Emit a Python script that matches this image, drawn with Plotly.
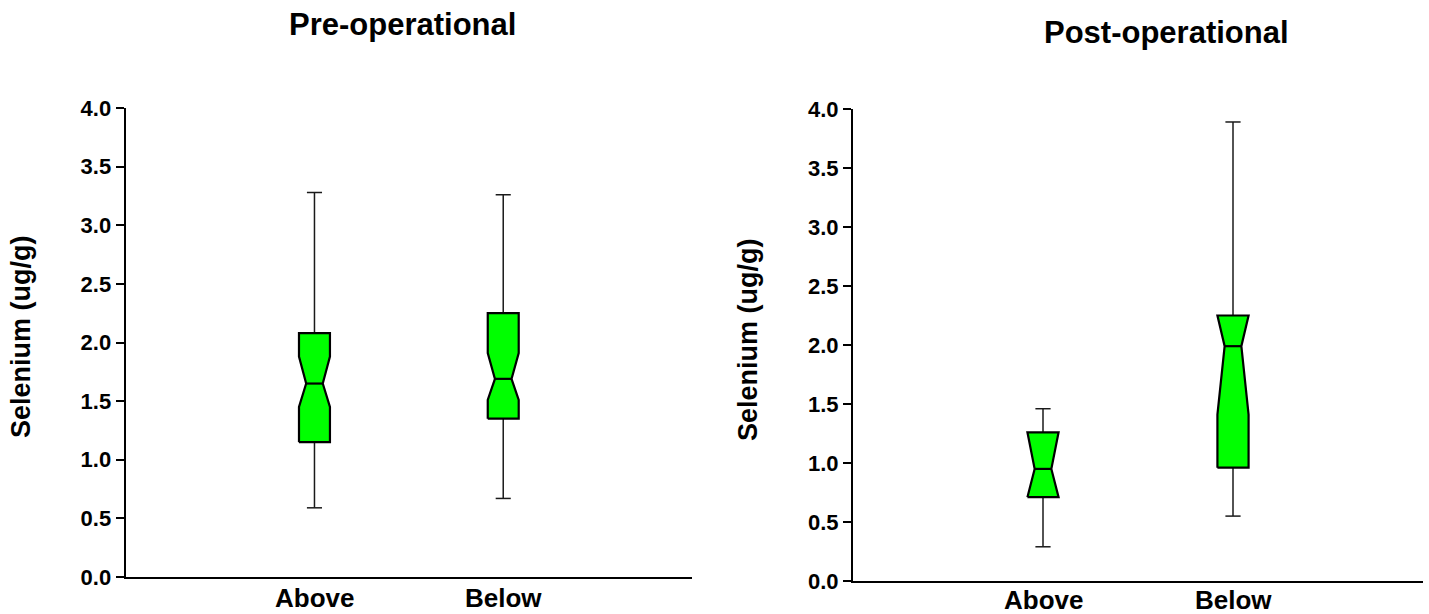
import plotly.graph_objects as go

# Selenium (ug/g) summary statistics per group, pre- and post-operational
groups = ["Above", "Below"]

pre_whisker_hi = [3.28, 3.26]
pre_q3 = [2.08, 2.25]
pre_notch_hi = [1.88, 1.91]
pre_median = [1.65, 1.69]
pre_notch_lo = [1.45, 1.51]
pre_q1 = [1.15, 1.35]
pre_whisker_lo = [0.59, 0.67]

post_whisker_hi = [1.46, 3.89]
post_q3 = [1.26, 2.25]
post_notch_hi = [1.26, 2.25]
post_median = [0.95, 1.99]
post_notch_lo = [0.71, 1.41]
post_q1 = [0.71, 0.96]
post_whisker_lo = [0.29, 0.55]

y_ticks = [0.0, 0.5, 1.0, 1.5, 2.0, 2.5, 3.0, 3.5, 4.0]

# styling
W, H = 1429, 614
FONT = "Liberation Sans, Arial, Helvetica, sans-serif"
BOX_HALF = 0.082
NOTCH_HALF = 0.044
CAP_HALF = 0.04
FILL = "#00FF00"

fig = go.Figure()


def add_panel(xa, ya, whi, q3, nhi, med, nlo, q1, wlo):
    for i in range(len(groups)):
        c = i
        # whiskers with caps
        fig.add_trace(go.Scatter(
            x=[c, c, None, c - CAP_HALF, c + CAP_HALF, None,
               c, c, None, c - CAP_HALF, c + CAP_HALF],
            y=[q3[i], whi[i], None, whi[i], whi[i], None,
               q1[i], wlo[i], None, wlo[i], wlo[i]],
            mode="lines", line=dict(color="#1a1a1a", width=1.5),
            xaxis=xa, yaxis=ya, showlegend=False, hoverinfo="skip"))
        # notched box outline
        L, R = c - BOX_HALF, c + BOX_HALF
        Ln, Rn = c - NOTCH_HALF, c + NOTCH_HALF
        fig.add_trace(go.Scatter(
            x=[L, L, Ln, L, L, R, R, Rn, R, R, L],
            y=[q1[i], nlo[i], med[i], nhi[i], q3[i], q3[i], nhi[i],
               med[i], nlo[i], q1[i], q1[i]],
            mode="lines", fill="toself", fillcolor=FILL,
            line=dict(color="black", width=2.2),
            xaxis=xa, yaxis=ya, showlegend=False, hoverinfo="skip"))
        # median line
        fig.add_trace(go.Scatter(
            x=[Ln, Rn], y=[med[i], med[i]], mode="lines",
            line=dict(color="black", width=2.2),
            xaxis=xa, yaxis=ya, showlegend=False, hoverinfo="skip"))


add_panel("x", "y", pre_whisker_hi, pre_q3, pre_notch_hi, pre_median,
          pre_notch_lo, pre_q1, pre_whisker_lo)
add_panel("x2", "y2", post_whisker_hi, post_q3, post_notch_hi, post_median,
          post_notch_lo, post_q1, post_whisker_lo)


def px_x(p):
    return p / W


def px_y(p):
    return 1 - p / H


tick_font = dict(family=FONT, size=22, color="black", weight="bold")
cat_font = dict(family=FONT, size=26, color="black", weight="bold")

xaxis_common = dict(
    range=[-1, 2], tickvals=[0, 1], showticklabels=False, showgrid=False,
    zeroline=False, showline=True, linecolor="black", linewidth=2.2,
    ticks="", fixedrange=True, automargin=False)
yaxis_common = dict(
    range=[0, 4], tickvals=y_ticks, ticktext=[f"{v:.1f}" for v in y_ticks],
    showgrid=False, zeroline=False, showline=True, linecolor="black",
    linewidth=2.2, ticks="outside", ticklen=8, tickwidth=2, tickcolor="black",
    tickfont=tick_font, fixedrange=True, automargin=False)

fig.update_layout(
    width=W, height=H,
    margin=dict(l=0, r=0, t=0, b=0, pad=0, autoexpand=False),
    paper_bgcolor="white", plot_bgcolor="white", showlegend=False,
    xaxis=dict(domain=[px_x(125.7), px_x(692)], anchor="y", **xaxis_common),
    yaxis=dict(domain=[px_y(577), px_y(108)], anchor="x", **yaxis_common),
    xaxis2=dict(domain=[px_x(853), px_x(1423)], anchor="y2", **xaxis_common),
    yaxis2=dict(domain=[px_y(581), px_y(109)], anchor="x2", **yaxis_common),
)

title_font = dict(family=FONT, size=31, color="black", weight="bold")
axis_title_font = dict(family=FONT, size=27, color="black", weight="bold")

annotations = [
    dict(text="Pre-operational", x=px_x(402), y=px_y(24), font=title_font),
    dict(text="Post-operational", x=px_x(1166), y=px_y(32), font=title_font),
    dict(text="Selenium (ug/g)", x=px_x(21), y=px_y(337), textangle=-90,
         font=axis_title_font),
    dict(text="Selenium (ug/g)", x=px_x(748), y=px_y(340), textangle=-90,
         font=axis_title_font),
]
for a in annotations:
    fig.add_annotation(xref="paper", yref="paper", showarrow=False,
                       xanchor="center", yanchor="middle", **a)

# group labels under each panel's category positions
for xa, label_y in (("x", 598), ("x2", 600)):
    for i, name in enumerate(groups):
        fig.add_annotation(xref=xa, yref="paper", x=i, y=px_y(label_y),
                           text=name, showarrow=False, xanchor="center",
                           yanchor="middle", font=cat_font)

fig.write_html("out.html")
